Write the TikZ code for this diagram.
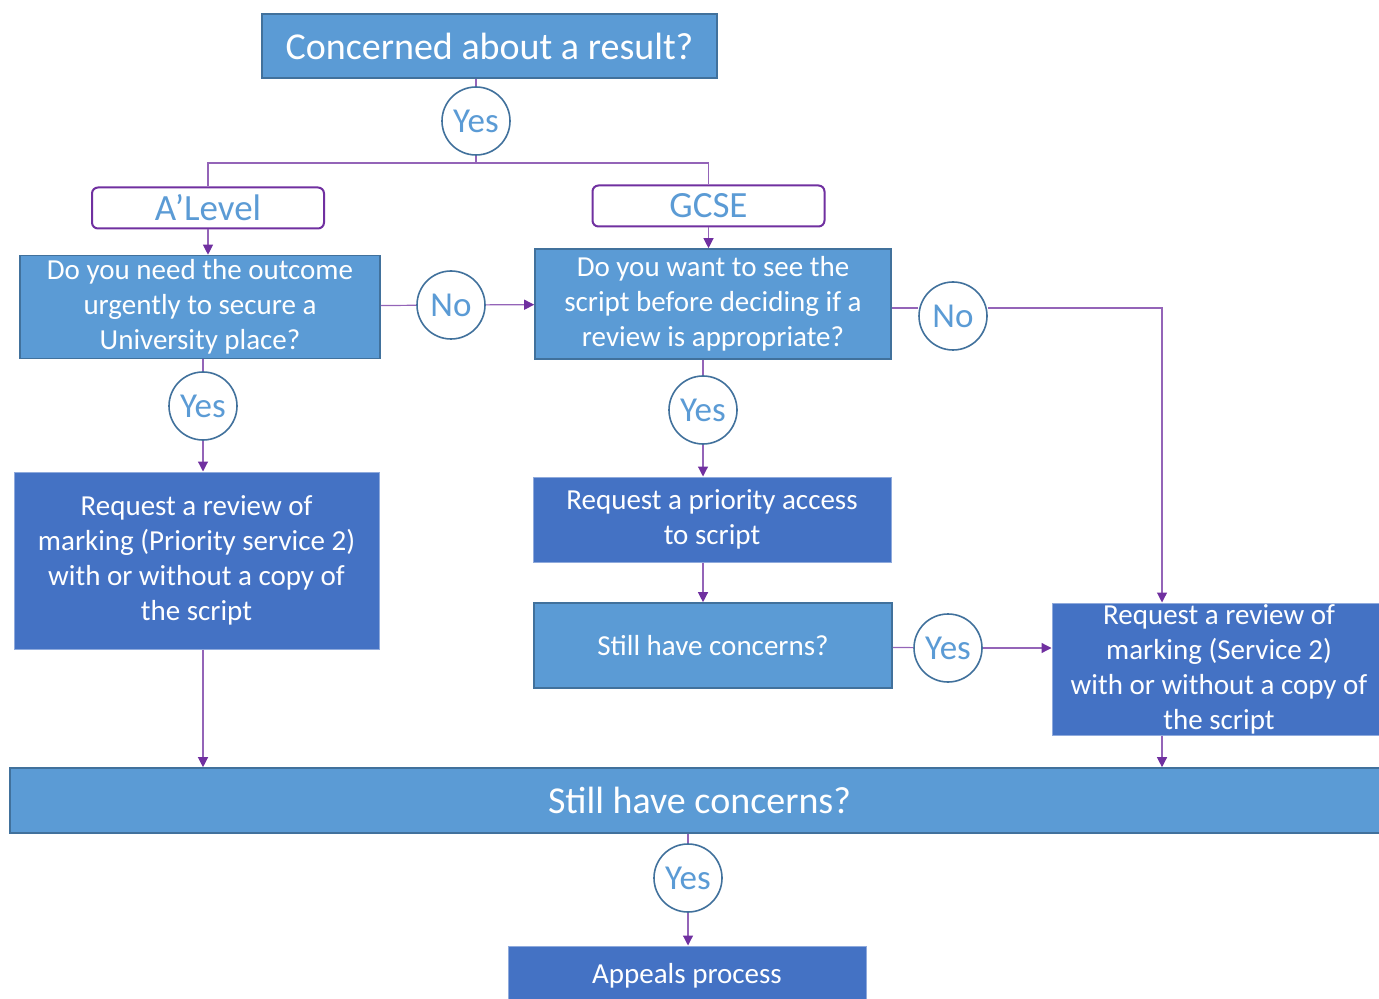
\documentclass[tikz,border=0pt]{standalone}
\usepackage{fontspec}
\setmainfont{Carlito}
\usetikzlibrary{positioning}
\usetikzlibrary{arrows.meta}
\definecolor{lightblue}{HTML}{5B9BD5}
\definecolor{darkblue}{HTML}{4472C4}
\definecolor{edgeblue}{HTML}{41719C}
\definecolor{paleedge}{HTML}{8FAADC}
\definecolor{linkpurple}{HTML}{7030A0}

\begin{document}
\begin{tikzpicture}[x=0.5pt, y=-0.5pt,
    question/.style={draw=edgeblue, line width=0.8pt, fill=lightblue, text=white, align=center, inner sep=0pt, font=\fontsize{14.5}{17.5}\selectfont},
    request/.style={draw=paleedge, line width=0.5pt, fill=darkblue, text=white, align=center, inner sep=0pt, font=\fontsize{14.5}{17.5}\selectfont},
    level/.style={draw=linkpurple, line width=1pt, rounded corners=3pt, fill=white, text=lightblue, minimum width=116pt, minimum height=20.5pt, inner sep=0pt, font=\fontsize{18.5}{22}\selectfont},
    answer/.style={circle, draw=edgeblue, line width=0.8pt, fill=white, text=lightblue, minimum size=34pt, inner sep=0pt, font=\fontsize{17.5}{20}\selectfont},
    link/.style={draw=linkpurple!75, line width=0.6pt},
    arrow/.style={link, -{Triangle[length=5pt, width=5pt, color=linkpurple]}}]
    \useasboundingbox (0,0) rectangle (1379,999);

    % Start
    \node[question, minimum width=227.5pt, minimum height=32pt, font=\fontsize{19}{23}\selectfont] (start) at (489.5,46) {Concerned about a result?};
    \node[answer] (yes1) at (476,121) {Yes};
    \coordinate (split) at (476,163);
    \node[level] (alevel) at (208,208) {A’Level};
    \node[level] (gcse) at (708.5,206) {GCSE};

    % A'Level side
    \node[question, minimum width=180pt, minimum height=51.5pt] (urgent) at (200,307) {Do you need the outcome\\ urgently to secure a\\ University place?};
    \node[answer] (yes2) at (203,406) {Yes};
    \node[request, minimum width=182.5pt, minimum height=88.5pt] (priority) at (196.5,560.5) {Request a review of\\ marking (Priority service 2)\\ with or without a copy of\\ the script};
    \node[answer] (no1) at (451,305) {No};

    % GCSE side
    \node[question, minimum width=178pt, minimum height=55pt] (seescript) at (713,304) {Do you want to see the\\ script before deciding if a\\ review is appropriate?};
    \node[answer] (yes3) at (703,410) {Yes};
    \node[request, minimum width=179pt, minimum height=42.5pt] (access) at (712,519.5) {Request a priority access\\ to script};
    \node[question, minimum width=179pt, minimum height=42.5pt] (still1) at (713,645.5) {Still have concerns?};
    \node[answer] (yes4) at (948,648) {Yes};
    \node[answer] (no2) at (953,316) {No};
    \coordinate (turn) at (1162,308);
    \node[request, minimum width=167pt, minimum height=66pt] (service) at (1219,669) {Request a review of\\ marking (Service 2)\\ with or without a copy of\\ the script};

    % End
    \node[question, minimum width=689.5pt, minimum height=32.5pt, font=\fontsize{19}{23}\selectfont] (still2) at (699.5,800.5) {Still have concerns?};
    \node[answer] (yes5) at (688,878) {Yes};
    \node[request, minimum width=179pt, minimum height=30pt] (appeals) at (687,976) {Appeals process};

    % Connectors
    \draw[link] (yes1 |- start.south) -- (yes1);
    \draw[link] (yes1) -- (split);
    \draw[link] (alevel.north) |- (split) -| (gcse.north);
    \draw[arrow] (alevel) -- (alevel |- urgent.north);
    \draw[arrow] (gcse) -- (gcse |- seescript.north);
    \draw[link] (yes2 |- urgent.south) -- (yes2);
    \draw[arrow] (yes2) -- (yes2 |- priority.north);
    \draw[link] (urgent) -- (no1);
    \draw[arrow] (no1) -- (seescript);
    \draw[link] (yes3 |- seescript.south) -- (yes3);
    \draw[arrow] (yes3) -- (yes3 |- access.north);
    \draw[arrow] (yes3 |- access.south) -- (yes3 |- still1.north);
    \draw[link] (still1) -- (yes4);
    \draw[arrow] (yes4) -- (yes4 -| service.west);
    \draw[link] (seescript.east |- turn) -- (no2.west |- turn);
    \draw[arrow] (no2.east |- turn) -- (turn) -- (turn |- service.north);
    \draw[arrow] (turn |- service.south) -- (turn |- still2.north);
    \draw[arrow] (yes2 |- priority.south) -- (yes2 |- still2.north);
    \draw[link] (yes5 |- still2.south) -- (yes5);
    \draw[arrow] (yes5) -- (yes5 |- appeals.north);
\end{tikzpicture}
\end{document}
